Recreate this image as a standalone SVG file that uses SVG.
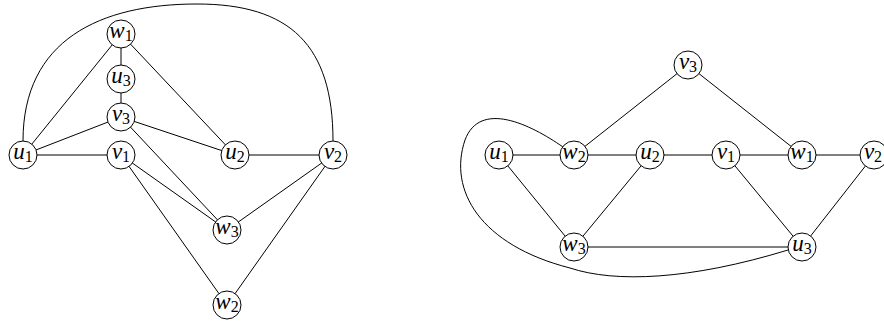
<svg xmlns="http://www.w3.org/2000/svg" width="884" height="324" viewBox="0 0 884 324">
<style>
.e{stroke:#000;stroke-width:1;fill:none}
.n circle{fill:#fff;stroke:#000;stroke-width:1}
</style>
<defs>
<g id="dummy"/>
</defs>
<rect width="884" height="324" fill="#fff"/>
<g id="connectors">
<path class="e" d="M23,141 C23,40 100,4 197,4 C290,4 333,45 333,141"/>
<line class="e" x1="23" y1="155" x2="121" y2="34"/>
<line class="e" x1="23" y1="155" x2="121" y2="117"/>
<line class="e" x1="23" y1="155" x2="121" y2="155"/>
<line class="e" x1="121" y1="34" x2="121" y2="79"/>
<line class="e" x1="121" y1="79" x2="121" y2="117"/>
<line class="e" x1="121" y1="34" x2="235" y2="155"/>
<line class="e" x1="121" y1="117" x2="235" y2="155"/>
<line class="e" x1="121" y1="117" x2="227" y2="230"/>
<line class="e" x1="121" y1="155" x2="227" y2="230"/>
<line class="e" x1="121" y1="155" x2="227" y2="305"/>
<line class="e" x1="235" y1="155" x2="333" y2="155"/>
<line class="e" x1="333" y1="155" x2="227" y2="230"/>
<line class="e" x1="333" y1="155" x2="227" y2="305"/>
<path class="e" d="M563,147 C530,124 480,100 465,140 C448,190 480,245 570,268 C615,283 690,280 788,250"/>
<line class="e" x1="688" y1="65" x2="574" y2="155"/>
<line class="e" x1="688" y1="65" x2="802" y2="155"/>
<line class="e" x1="499" y1="155" x2="874" y2="155"/>
<line class="e" x1="499" y1="155" x2="574" y2="247"/>
<line class="e" x1="650" y1="155" x2="574" y2="247"/>
<line class="e" x1="574" y1="247" x2="802" y2="247"/>
<line class="e" x1="726" y1="155" x2="802" y2="247"/>
<line class="e" x1="874" y1="155" x2="802" y2="247"/>
</g>
<g font-family="Liberation Serif, DejaVu Serif, serif" text-anchor="middle" fill="#000">
<g id="L_w1" class="n"><circle cx="121" cy="34" r="14"/><text x="121" y="38"><tspan font-style="italic" font-size="23">w</tspan><tspan font-size="16" dy="3">1</tspan></text></g>
<g id="L_u3" class="n"><circle cx="121" cy="79" r="14"/><text x="121" y="83"><tspan font-style="italic" font-size="23">u</tspan><tspan font-size="16" dy="3">3</tspan></text></g>
<g id="L_v3" class="n"><circle cx="121" cy="117" r="14"/><text x="121" y="121"><tspan font-style="italic" font-size="23">v</tspan><tspan font-size="16" dy="3">3</tspan></text></g>
<g id="L_u1" class="n"><circle cx="23" cy="155" r="14"/><text x="23" y="159"><tspan font-style="italic" font-size="23">u</tspan><tspan font-size="16" dy="3">1</tspan></text></g>
<g id="L_v1" class="n"><circle cx="121" cy="155" r="14"/><text x="121" y="159"><tspan font-style="italic" font-size="23">v</tspan><tspan font-size="16" dy="3">1</tspan></text></g>
<g id="L_u2" class="n"><circle cx="235" cy="155" r="14"/><text x="235" y="159"><tspan font-style="italic" font-size="23">u</tspan><tspan font-size="16" dy="3">2</tspan></text></g>
<g id="L_v2" class="n"><circle cx="333" cy="155" r="14"/><text x="333" y="159"><tspan font-style="italic" font-size="23">v</tspan><tspan font-size="16" dy="3">2</tspan></text></g>
<g id="L_w3" class="n"><circle cx="227" cy="230" r="14"/><text x="227" y="234"><tspan font-style="italic" font-size="23">w</tspan><tspan font-size="16" dy="3">3</tspan></text></g>
<g id="L_w2" class="n"><circle cx="227" cy="305" r="14"/><text x="227" y="309"><tspan font-style="italic" font-size="23">w</tspan><tspan font-size="16" dy="3">2</tspan></text></g>
<g id="R_v3" class="n"><circle cx="688" cy="65" r="14"/><text x="688" y="69"><tspan font-style="italic" font-size="23">v</tspan><tspan font-size="16" dy="3">3</tspan></text></g>
<g id="R_u1" class="n"><circle cx="499" cy="155" r="14"/><text x="499" y="159"><tspan font-style="italic" font-size="23">u</tspan><tspan font-size="16" dy="3">1</tspan></text></g>
<g id="R_w2" class="n"><circle cx="574" cy="155" r="14"/><text x="574" y="159"><tspan font-style="italic" font-size="23">w</tspan><tspan font-size="16" dy="3">2</tspan></text></g>
<g id="R_u2" class="n"><circle cx="650" cy="155" r="14"/><text x="650" y="159"><tspan font-style="italic" font-size="23">u</tspan><tspan font-size="16" dy="3">2</tspan></text></g>
<g id="R_v1" class="n"><circle cx="726" cy="155" r="14"/><text x="726" y="159"><tspan font-style="italic" font-size="23">v</tspan><tspan font-size="16" dy="3">1</tspan></text></g>
<g id="R_w1" class="n"><circle cx="802" cy="155" r="14"/><text x="802" y="159"><tspan font-style="italic" font-size="23">w</tspan><tspan font-size="16" dy="3">1</tspan></text></g>
<g id="R_v2" class="n"><circle cx="874" cy="155" r="14"/><text x="873" y="159"><tspan font-style="italic" font-size="23">v</tspan><tspan font-size="16" dy="3">2</tspan></text></g>
<g id="R_w3" class="n"><circle cx="574" cy="247" r="14"/><text x="574" y="251"><tspan font-style="italic" font-size="23">w</tspan><tspan font-size="16" dy="3">3</tspan></text></g>
<g id="R_u3" class="n"><circle cx="802" cy="247" r="14"/><text x="802" y="251"><tspan font-style="italic" font-size="23">u</tspan><tspan font-size="16" dy="3">3</tspan></text></g>
</g>
</svg>
